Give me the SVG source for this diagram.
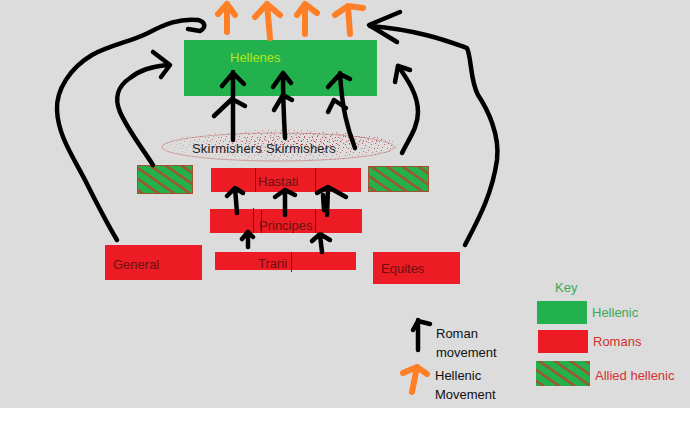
<svg xmlns="http://www.w3.org/2000/svg" width="690" height="429" viewBox="0 0 690 429">
<style>
.t{font-family:"Liberation Sans","Open Sans",Arial,sans-serif;font-size:13px}
.dk{fill:#6b1010}
.blk{fill:#111}
.red{fill:#ed1c24}
.grn{fill:#22b14c}
.ln{fill:none;stroke:#000;stroke-width:4.5;stroke-linecap:round;stroke-linejoin:round}
.or{fill:none;stroke:#ff7f27;stroke-width:6;stroke-linecap:round;stroke-linejoin:round}
.div{stroke:#7a1010;stroke-width:1}
.dot{fill:#b3202a}
</style>
<defs>
<pattern id="hatch" width="9" height="9" patternUnits="userSpaceOnUse" patternTransform="rotate(35)">
<rect width="9" height="9" fill="#22b14c"/>
<line x1="0" y1="4.5" x2="9" y2="4.5" stroke="#b5452a" stroke-width="2.2"/>
</pattern>
<pattern id="dots" width="13" height="11" patternUnits="userSpaceOnUse">
<rect class="dot" x="1" y="2" width="1" height="1"/>
<rect class="dot" x="4" y="7" width="1" height="1"/>
<rect class="dot" x="7" y="1" width="1" height="1"/>
<rect class="dot" x="10" y="5" width="1" height="1"/>
<rect class="dot" x="2" y="9" width="1" height="1"/>
<rect class="dot" x="8" y="9" width="1" height="1"/>
<rect class="dot" x="11" y="0" width="1" height="1"/>
<rect class="dot" x="5" y="4" width="1" height="1"/>
<rect class="dot" x="12" y="8" width="1" height="1"/>
<rect class="dot" x="0" y="5" width="1" height="1"/>
</pattern>
<pattern id="dots2" width="9" height="7" patternUnits="userSpaceOnUse" patternTransform="rotate(17)">
<rect class="dot" x="1" y="1" width="1" height="1"/>
<rect class="dot" x="5" y="4" width="1" height="1"/>
<rect class="dot" x="7" y="0" width="1" height="1"/>
</pattern>
<radialGradient id="fade" cx="0.6" cy="0.4" r="0.6">
<stop offset="0" stop-color="#fff" stop-opacity="0.9"/>
<stop offset="0.6" stop-color="#fff" stop-opacity="0.6"/>
<stop offset="1" stop-color="#fff" stop-opacity="0.1"/>
</radialGradient>
<mask id="sprayMask" maskUnits="userSpaceOnUse" x="150" y="120" width="260" height="50">
<ellipse cx="280" cy="146" rx="118" ry="16" fill="url(#fade)"/>
</mask>
</defs>
<rect x="0" y="0" width="690" height="408" fill="#dcdcdc"/>
<rect x="0" y="408" width="690" height="21" fill="#ffffff"/>

<g id="skirmishers">
<ellipse cx="278" cy="147" rx="116" ry="14" fill="none" stroke="#c25a5a" stroke-width="0.8" opacity="0.6"/>
<g mask="url(#sprayMask)">
<rect x="160" y="128" width="240" height="36" fill="url(#dots)"/>
<ellipse cx="310" cy="141" rx="70" ry="8" fill="url(#dots2)"/>
</g>
<text class="t" x="192" y="153" fill="#222" letter-spacing="0.2">Skirmishers Skirmishers</text>
</g>

<g id="hellenes">
<rect x="184" y="40" width="193" height="56" class="grn"/>
<text class="t" x="230" y="62" fill="#b5e61d">Hellenes</text>
</g>

<g id="allied-left">
<rect x="137.5" y="165.5" width="55" height="28" fill="url(#hatch)" stroke="#a0522d" stroke-width="1"/>
</g>
<g id="allied-right">
<rect x="368.5" y="166.5" width="60" height="25" fill="url(#hatch)" stroke="#a0522d" stroke-width="1"/>
</g>

<g id="hastati">
<rect x="211" y="168" width="150" height="24" class="red"/>
<line class="div" x1="255.5" y1="168" x2="255.5" y2="192"/>
<line class="div" x1="315.5" y1="168" x2="315.5" y2="192"/>
<text class="t dk" x="258" y="186">Hastati</text>
</g>

<g id="principes">
<rect x="210" y="209" width="152" height="24" class="red"/>
<line class="div" x1="253.5" y1="208" x2="253.5" y2="233"/>
<line class="div" x1="261.5" y1="210" x2="261.5" y2="233"/>
<line class="div" x1="315.5" y1="209" x2="315.5" y2="233"/>
<text class="t dk" x="259" y="230">Principes</text>
</g>

<g id="trarii">
<rect x="215" y="252" width="141" height="18" class="red"/>
<line class="div" x1="291.5" y1="252" x2="291.5" y2="272" stroke="#000"/>
<text class="t dk" x="258" y="268">Trarii</text>
</g>

<g id="general">
<rect x="105" y="245" width="97" height="35" class="red"/>
<text class="t dk" x="113" y="269">General</text>
</g>

<g id="equites">
<rect x="373" y="252" width="87" height="32" class="red"/>
<text class="t dk" x="381" y="273">Equites</text>
</g>

<g id="connectors">
<path class="ln" d="M117 240 C108 225 95 200 85 180 C72 155 58 135 57 110 C56 90 70 68 92 55 C110 45 130 42 148 33 C165 24 180 18 198 20 C206 22 206 28 200 31 L188 29"/>
<path class="ln" d="M153 165 C140 145 128 130 120 112 C114 98 118 86 130 78 C140 70 150 67 168 65"/>
<path class="ln" d="M153 52 L170 65 L161 77"/>
<path class="ln" d="M465 245 C478 220 492 195 497 160 C500 135 488 110 478 95 C470 80 472 60 467 48 C450 42 420 30 370 26"/>
<path class="ln" d="M400 12 L369 25 L397 42"/>
<path class="ln" d="M402 153 C408 140 418 128 418 112 C418 95 408 80 398 66"/>
<path class="ln" d="M395 82 L398 66 L410 70"/>
<path class="ln" d="M233 140 L233 72 M222 86 L233 73 L244 84 M214 116 L232 99 L245 106"/>
<path class="ln" d="M285 138 C284 120 283 95 283 73 M273 87 L283 73 L291 83 M274 110 L283 95 L292 100"/>
<path class="ln" d="M355 148 C348 130 342 110 340 73 M328 87 L340 74 L350 79 M328 112 L334 100 L346 108"/>
<path class="ln" d="M237 213 L235 188 M227 196 L235 188 L243 193"/>
<path class="ln" d="M285 215 L285 190 M275 197 L285 190 L295 195"/>
<path class="ln" d="M327 215 L328 188 M317 193 L328 187 L346 197 M323 195 L324 210"/>
<path class="ln" d="M248 247 L248 232 M242 239 L248 232 L253 237"/>
<path class="ln" d="M322 252 L320 235 M312 241 L320 234 L330 240"/>
<path class="or" d="M227 32 L227 4 M218 14 L227 4 L235 15"/>
<path class="or" d="M270 38 L267 4 M255 17 L267 4 L280 15"/>
<path class="or" d="M305 34 L305 4 M297 15 L305 4 L317 13"/>
<path class="or" d="M350 34 L348 6 M335 15 L348 6 L363 8"/>
</g>

<g id="legend">
<path class="ln" d="M418 350 L418 320 M413 330 L418 321 L430 324" stroke-width="4"/>
<text class="t blk" x="436" y="338">Roman</text>
<text class="t blk" x="436" y="357">movement</text>
<path class="or" d="M412 392 L417 367 M403 373 L417 367 L427 374" stroke-width="5"/>
<text class="t blk" x="435" y="380">Hellenic</text>
<text class="t blk" x="435" y="399">Movement</text>
<text class="t" x="555" y="292" fill="#3aa85a">Key</text>
<rect x="537" y="301" width="50" height="23" class="grn"/>
<text class="t" x="592" y="317" fill="#3aa85a">Hellenic</text>
<rect x="538" y="330" width="50" height="23" class="red"/>
<text class="t" x="593" y="346" fill="#d32f2f">Romans</text>
<rect x="536" y="361" width="54" height="25" fill="url(#hatch)"/>
<text class="t" x="595" y="380" fill="#d32f2f">Allied hellenic</text>
</g>
</svg>
